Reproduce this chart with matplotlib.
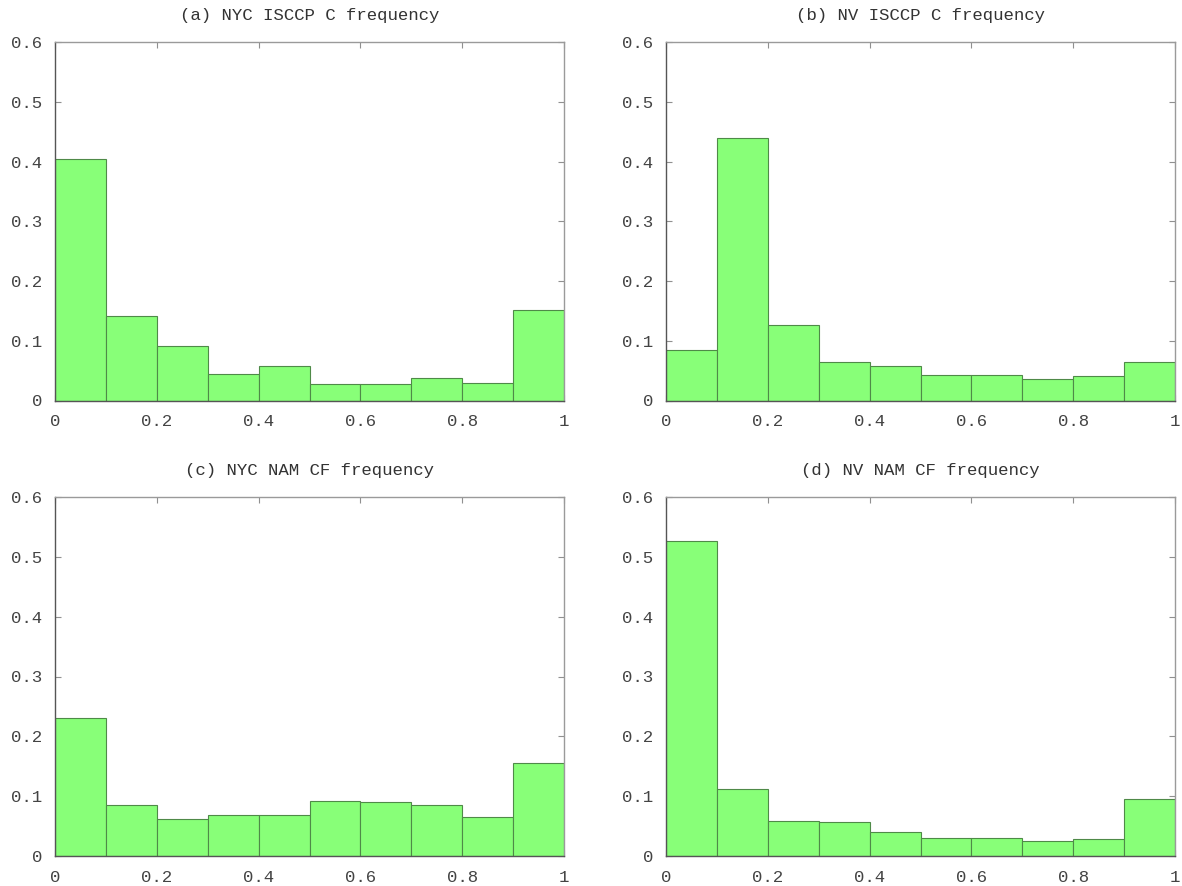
import numpy as np
import matplotlib
matplotlib.use("Agg")
import matplotlib.pyplot as plt

# cloud fraction histograms, 10 bins over [0, 1]
bin_edges = [0.0, 0.1, 0.2, 0.3, 0.4, 0.5, 0.6, 0.7, 0.8, 0.9, 1.0]

nyc_isccp = [0.404, 0.142, 0.091, 0.045, 0.057, 0.028, 0.027, 0.038, 0.029, 0.152]
nv_isccp = [0.085, 0.440, 0.127, 0.065, 0.058, 0.043, 0.042, 0.036, 0.041, 0.065]
nyc_nam = [0.230, 0.085, 0.062, 0.068, 0.069, 0.092, 0.091, 0.086, 0.065, 0.156]
nv_nam = [0.527, 0.112, 0.058, 0.056, 0.040, 0.030, 0.030, 0.025, 0.028, 0.095]

titles = ["(a) NYC ISCCP C frequency", "(b) NV ISCCP C frequency",
          "(c) NYC NAM CF frequency", "(d) NV NAM CF frequency"]
series = [nyc_isccp, nv_isccp, nyc_nam, nv_nam]

x_ticks = [0, 0.2, 0.4, 0.6, 0.8, 1.0]
x_labels = ["0", "0.2", "0.4", "0.6", "0.8", "1"]
y_ticks = [0, 0.1, 0.2, 0.3, 0.4, 0.5, 0.6]
y_labels = ["0", "0.1", "0.2", "0.3", "0.4", "0.5", "0.6"]

plt.rcParams["font.family"] = ["Liberation Mono", "DejaVu Sans Mono"]

W, H = 1182, 886
fig = plt.figure(figsize=(W / 100, H / 100), dpi=100)

# panel boxes in pixels: left, top, right, bottom
boxes = [(55, 42, 564, 400.5), (666, 42, 1175, 400.5),
         (55, 497, 564, 856), (666, 497, 1175, 856)]

edges = np.array(bin_edges)
for box, vals, title in zip(boxes, series, titles):
    l, t, r, b = box
    ax = fig.add_axes([l / W, 1 - b / H, (r - l) / W, (b - t) / H])
    ax.bar(edges[:-1], vals, width=np.diff(edges), align="edge",
           color="#88ff78", edgecolor="#4f8a48", linewidth=0.8, zorder=2)
    ax.set_xlim(0, 1)
    ax.set_ylim(0, 0.6)
    ax.set_xticks(x_ticks)
    ax.set_xticklabels(x_labels)
    ax.set_yticks(y_ticks)
    ax.set_yticklabels(y_labels)
    ax.tick_params(direction="in", top=True, right=True, length=4,
                   width=0.8, color="#909090", labelsize=12.5,
                   labelcolor="#444444")
    ax.tick_params(axis="x", pad=10)
    ax.tick_params(axis="y", pad=9)
    for side in ("left", "bottom"):
        ax.spines[side].set_color("#555555")
        ax.spines[side].set_linewidth(1.0)
    for side in ("top", "right"):
        ax.spines[side].set_color("#9a9a9a")
        ax.spines[side].set_linewidth(1.0)
    ax.set_title(title, fontsize=12.5, color="#333333", pad=16)

fig.savefig("out.png", dpi=100, facecolor="white")
